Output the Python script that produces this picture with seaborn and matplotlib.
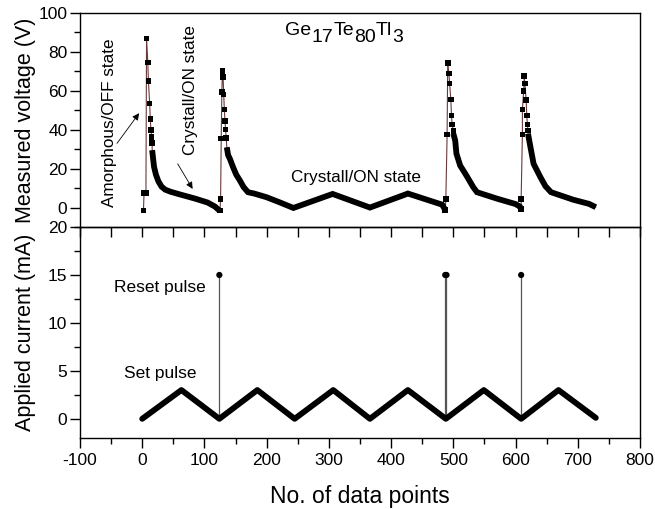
import numpy as np
import pandas as pd
import matplotlib
matplotlib.use('Agg')
import matplotlib.pyplot as plt
from matplotlib.ticker import MultipleLocator
import seaborn as sns

# Werte
# Spitzen (einzelne Quadrate) und Abklingkurven (dichte Punkte) der Spannung
spike1_x = [2, 3, 6, 7, 9, 10, 12, 13, 14, 15, 16]
spike1_v = [-1.5, 7.6, 7.6, 87, 74.6, 65, 53.4, 45.4, 40, 36.2, 33.1]
decay1_x = [16, 19, 22, 26, 31, 37, 45, 60, 85, 105, 117, 125]
decay1_v = [29.5, 21, 17, 13.5, 10.8, 9.2, 8.2, 6.8, 4.6, 2.6, 0.5, -1.8]

spike2_x = [125, 126, 127, 128, 129, 130, 131, 132, 133, 134, 135]
spike2_v = [-1.5, 4.5, 35.4, 59.4, 70.3, 67.2, 58.1, 50.4, 44.5, 40.2, 35.7]
decay2_x = [136, 138, 141, 146, 151, 157, 163, 170, 180, 200, 220, 243, 306, 366, 427, 482, 487]
decay2_v = [31, 27, 25, 20.8, 17, 13.9, 10.5, 7.9, 7.2, 5.3, 2.8, -0.2, 7.0, 0, 7.2, 1.5, -1.2]

spike3_x = [487, 488, 490, 491, 493, 494, 496, 497, 498, 500]
spike3_v = [-1.2, 4.5, 37.6, 74.4, 68.9, 63.8, 55.5, 47.4, 42.8, 39.3]
decay3_x = [500, 503, 505, 511, 521, 532, 538, 570, 600, 607, 609]
decay3_v = [38, 34.5, 27.7, 21.6, 16.5, 10.5, 7.9, 4.6, 1.8, 0.5, -0.7]

spike4_x = [609, 609, 611, 611, 613, 614, 615, 617, 618, 619, 620]
spike4_v = [-0.7, 4.5, 37.6, 50.4, 59.8, 67.5, 63.8, 55.2, 47.4, 42.8, 39.5]
decay4_x = [620, 624, 629, 640, 648, 657, 693, 718, 729]
decay4_v = [38, 31, 22.5, 15.6, 11, 7.9, 4.0, 1.9, 0.2]

# Strom: Dreieck (Set-Pulse) und Reset-Pulse
current_x = [0, 63, 124, 185, 245, 307, 366, 427, 488, 549, 609, 669, 729]
current_i = [0, 3, 0, 3, 0, 3, 0, 3, 0, 3, 0, 3, 0.1]
reset_x = [124, 487, 489, 609]
reset_i = [15, 15, 15, 15]

sns.set_theme(style='ticks')
plt.rcParams['font.family'] = ['Liberation Sans', 'DejaVu Sans']
plt.rcParams['axes.unicode_minus'] = False
for key in ['text.color', 'axes.labelcolor', 'xtick.color', 'ytick.color']:
    plt.rcParams[key] = 'black'

fig = plt.figure(figsize=(6.55, 5.09), dpi=100)
ax1 = fig.add_axes([0.1221, 0.554, 0.855, 0.4204])
ax2 = fig.add_axes([0.1221, 0.1395, 0.855, 0.4145])
ax1.set_zorder(3)
ax1.patch.set_alpha(0)

# Gesamte Folge fuer die duenne Verbindungslinie
all_x = spike1_x + decay1_x + spike2_x + decay2_x + spike3_x + decay3_x + spike4_x + decay4_x
all_v = spike1_v + decay1_v + spike2_v + decay2_v + spike3_v + decay3_v + spike4_v + decay4_v
df_all = pd.DataFrame({'x': all_x, 'v': all_v})
sns.lineplot(data=df_all, x='x', y='v', ax=ax1, estimator=None, sort=False,
             color='#6b3a3a', linewidth=0.8)

for dx, dv in [(decay1_x, decay1_v), (decay2_x, decay2_v), (decay3_x, decay3_v), (decay4_x, decay4_v)]:
    d = pd.DataFrame({'x': dx, 'v': dv})
    sns.lineplot(data=d, x='x', y='v', ax=ax1, estimator=None, sort=False,
                 color='black', linewidth=4.2, solid_capstyle='butt', solid_joinstyle='miter')

spikes = pd.DataFrame({'x': spike1_x + spike2_x + spike3_x + spike4_x,
                       'v': spike1_v + spike2_v + spike3_v + spike4_v})
sns.scatterplot(data=spikes, x='x', y='v', ax=ax1, marker='s', s=16,
                color='black', edgecolor='none', zorder=4)

# unteres Panel
df_cur = pd.DataFrame({'x': current_x, 'i': current_i})
ax2.vlines(reset_x, 0, reset_i, color='#555555', linewidth=0.9)
sns.lineplot(data=df_cur, x='x', y='i', ax=ax2, estimator=None, sort=False,
             color='black', linewidth=4.2, solid_capstyle='round')
df_reset = pd.DataFrame({'x': reset_x, 'i': reset_i})
sns.scatterplot(data=df_reset, x='x', y='i', ax=ax2, marker='o', s=20,
                color='black', edgecolor='none', zorder=4)

# Achsen
ax1.set_xlim(-100, 800)
ax1.set_ylim(-10, 100)
ax2.set_xlim(-100, 800)
ax2.set_ylim(-2, 20)

for ax in (ax1, ax2):
    for s in ax.spines.values():
        s.set_visible(True)
        s.set_color('black')
        s.set_linewidth(1.0)
    ax.tick_params(axis='y', which='major', direction='out', length=7, width=1,
                   labelsize=12.5, pad=2, right=False, color='black')
    ax.tick_params(axis='y', which='minor', direction='out', length=4, width=1,
                   left=True, right=False, color='black')
    ax.set_xlabel('')
    ax.set_ylabel('')

ax1.yaxis.set_major_locator(MultipleLocator(20))
ax1.yaxis.set_minor_locator(MultipleLocator(10))
ax1.set_yticks([0, 20, 40, 60, 80, 100])
ax1.xaxis.set_major_locator(MultipleLocator(50))
ax1.tick_params(axis='x', which='both', bottom=True, top=False, direction='out',
                length=7, width=1, labelbottom=False, color='black')

ax2.yaxis.set_major_locator(MultipleLocator(5))
ax2.yaxis.set_minor_locator(MultipleLocator(2.5))
ax2.set_yticks([0, 5, 10, 15, 20])
ax2.xaxis.set_major_locator(MultipleLocator(100))
ax2.xaxis.set_minor_locator(MultipleLocator(50))
ax2.tick_params(axis='x', which='major', direction='out', length=7, width=1,
                labelsize=12.5, pad=4, top=False, color='black')
ax2.tick_params(axis='x', which='minor', direction='out', length=4, width=1,
                top=False, color='black')

ax1.set_ylabel('Measured voltage (V)', fontsize=15.5)
ax2.set_ylabel('Applied current (mA)', fontsize=15.5)
ax1.yaxis.set_label_coords(-0.078, 0.5)
ax2.yaxis.set_label_coords(-0.078, 0.5)
ax2.set_xlabel('No. of data points', fontsize=16.5)
ax2.xaxis.set_label_coords(0.5, -0.225)

# Summenformel mit tiefgestellten Zahlen in voller Schriftgroesse
parts = ['Ge', '17', 'Te', '80', 'Tl', '3']
t = ax1.text(230, 88.5, parts[0], fontsize=14, ha='left', va='baseline')
for k, p in enumerate(parts[1:]):
    dy = -5 if k % 2 == 0 else 5
    t = ax1.annotate(p, xy=(1, 0), xycoords=t, xytext=(0, dy), textcoords='offset points',
                     fontsize=14, ha='left', va='bottom')

ax1.text(-52.5, 43.8, 'Amorphous/OFF state', rotation=90, fontsize=12.3,
         ha='center', va='center')
ax1.text(77, 60.3, 'Crystall/ON state', rotation=90, fontsize=12.3,
         ha='center', va='center')
ax1.text(344, 15.7, 'Crystall/ON state', fontsize=12.3, ha='center', va='center')
arrow = dict(arrowstyle='-|>', color='black', lw=0.6, mutation_scale=10, shrinkA=0, shrinkB=0)
ax1.annotate('', xy=(-5, 48.5), xytext=(-40.5, 33), arrowprops=arrow)
ax1.annotate('', xy=(81, 9.6), xytext=(57, 22.5), arrowprops=arrow)

ax2.text(28.6, 13.7, 'Reset pulse', fontsize=12.5, ha='center', va='center')
ax2.text(28.6, 4.7, 'Set pulse', fontsize=12.5, ha='center', va='center')

fig.savefig('out.png', dpi=100)
